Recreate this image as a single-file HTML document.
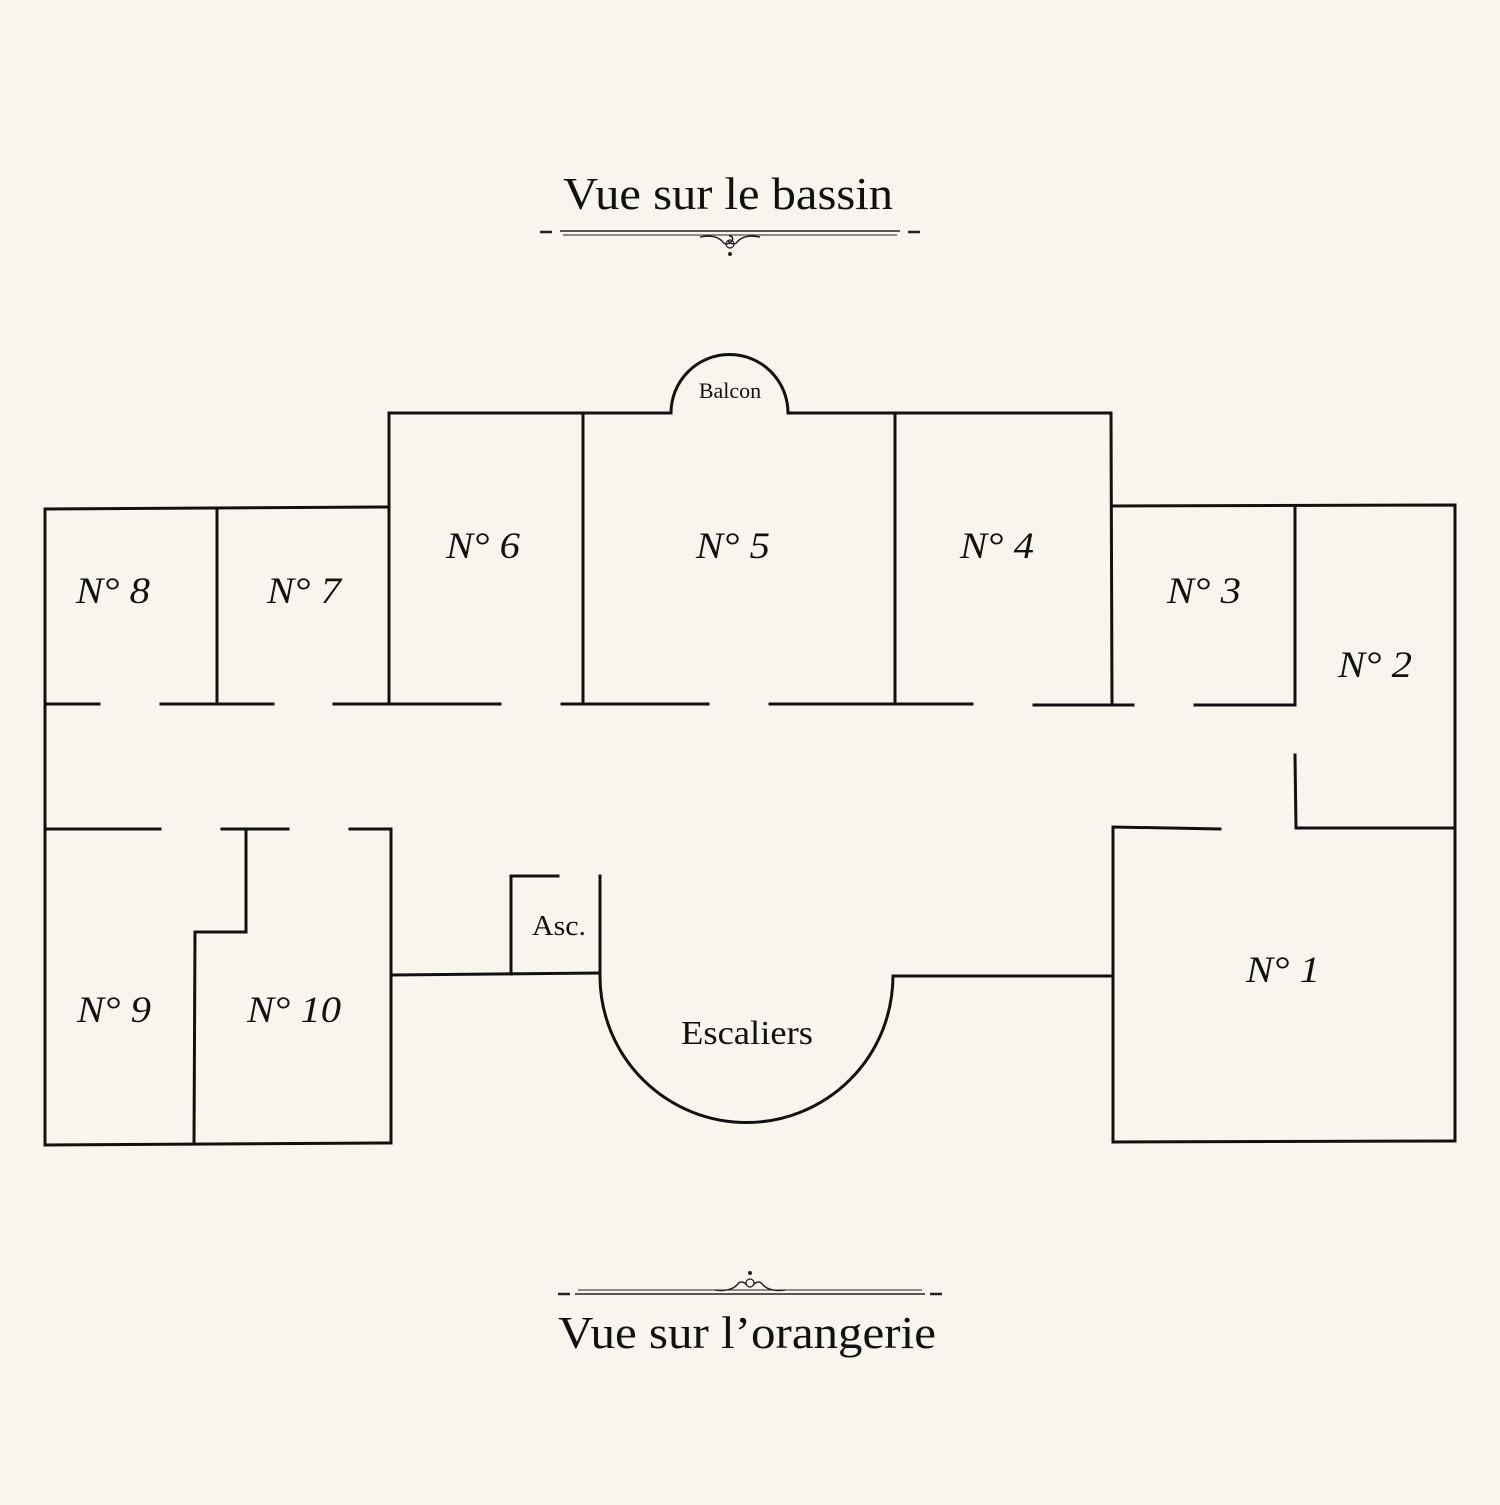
<!DOCTYPE html>
<html><head><meta charset="utf-8"><style>html,body{margin:0;padding:0;background:#f7f5ee}</style></head>
<body>
<svg width="1500" height="1500" viewBox="0 0 1500 1500" xmlns="http://www.w3.org/2000/svg">
<rect width="1500" height="1500" fill="#f7f5ee"/>
<g fill="none" stroke="#111" stroke-width="3" stroke-linecap="square">
<path d="M45 1145 L45 509 L389 507"/>
<path d="M217 509 L217 704"/>
<path d="M389 704 L389 413 L671 413"/>
<path d="M671 413 A58.5 58.5 0 0 1 788 413"/>
<path d="M788 413 L1111 413 L1112 704"/>
<path d="M583 413 L583 704"/>
<path d="M895 413 L895 704"/>
<path d="M1112 506 L1455 505 L1455 1141"/>
<path d="M1295 506 L1295 705"/>
<path d="M45 704 H99 M161 704 H273 M334 704 H500 M562 704 H708 M770 704 H972 M1034 705 H1133 M1195 705 H1294"/>
<path d="M1295 755 L1296 828 L1455 828"/>
<path d="M1220 829 L1113 827 L1113 1142 L1455 1141"/>
<path d="M895 976 L1112 976"/>
<path d="M600 876 L600 976 A146.5 146.5 0 0 0 893 976 L893 976"/>
<path d="M558 876 L511 876 L511 974"/>
<path d="M392 975 L600 973"/>
<path d="M45 829 H160 M222 829 H288 M350 829 H391 L391 1143 L45 1145"/>
<path d="M246 829 L246 932 L195 932 L194 1144"/>
</g>
<g font-family="Liberation Serif, serif" fill="#111">
<text x="728" y="209" font-size="46" text-anchor="middle" textLength="330" lengthAdjust="spacingAndGlyphs">Vue sur le bassin</text>
<text x="747" y="1348" font-size="46" text-anchor="middle" textLength="378" lengthAdjust="spacingAndGlyphs">Vue sur l’orangerie</text>
<text x="730" y="398" font-size="22" text-anchor="middle">Balcon</text>
<text x="747" y="1044" font-size="34" text-anchor="middle" textLength="132" lengthAdjust="spacingAndGlyphs">Escaliers</text>
<text x="559" y="935" font-size="28" text-anchor="middle" textLength="54" lengthAdjust="spacingAndGlyphs">Asc.</text>
<g font-style="italic" font-size="37" text-anchor="middle" lengthAdjust="spacingAndGlyphs">
<text x="113" y="603" textLength="74" lengthAdjust="spacingAndGlyphs">N° 8</text>
<text x="304" y="603" textLength="74" lengthAdjust="spacingAndGlyphs">N° 7</text>
<text x="483" y="558" textLength="74" lengthAdjust="spacingAndGlyphs">N° 6</text>
<text x="733" y="558" textLength="74" lengthAdjust="spacingAndGlyphs">N° 5</text>
<text x="997" y="558" textLength="74" lengthAdjust="spacingAndGlyphs">N° 4</text>
<text x="1204" y="603" textLength="74" lengthAdjust="spacingAndGlyphs">N° 3</text>
<text x="1375" y="677" textLength="74" lengthAdjust="spacingAndGlyphs">N° 2</text>
<text x="1283" y="982" textLength="74" lengthAdjust="spacingAndGlyphs">N° 1</text>
<text x="114" y="1022" textLength="74" lengthAdjust="spacingAndGlyphs">N° 9</text>
<text x="294" y="1022" textLength="94" lengthAdjust="spacingAndGlyphs">N° 10</text>
</g>
</g>
<g stroke="#222" fill="none">
<line x1="560" y1="231" x2="900" y2="231" stroke-width="1.5"/>
<line x1="563" y1="235" x2="897" y2="235" stroke-width="1"/>
<path d="M540 232 L552 232 M908 232 L920 232" stroke-width="2.5"/>
<path d="M700 237 Q715 234 722 241 Q726 247 732 241 Q734 236 729 236 M760 237 Q745 234 738 241 Q734 247 728 241" stroke-width="1.5"/>
<circle cx="730" cy="244" r="4" stroke-width="1.2"/>
<circle cx="730" cy="254" r="1.5" fill="#222"/>
<line x1="575" y1="1294" x2="925" y2="1294" stroke-width="1.5"/>
<line x1="578" y1="1290" x2="922" y2="1290" stroke-width="1"/>
<path d="M558 1294 L570 1294 M930 1294 L942 1294" stroke-width="2.5"/>
<path d="M715 1290 Q730 1292 737 1285 Q741 1279 747 1285 M785 1290 Q770 1292 763 1285 Q759 1279 753 1285" stroke-width="1.5"/>
<circle cx="750" cy="1283" r="4" stroke-width="1.2"/>
<circle cx="750" cy="1273" r="1.5" fill="#222"/>
</g>
</svg>
</body></html>
